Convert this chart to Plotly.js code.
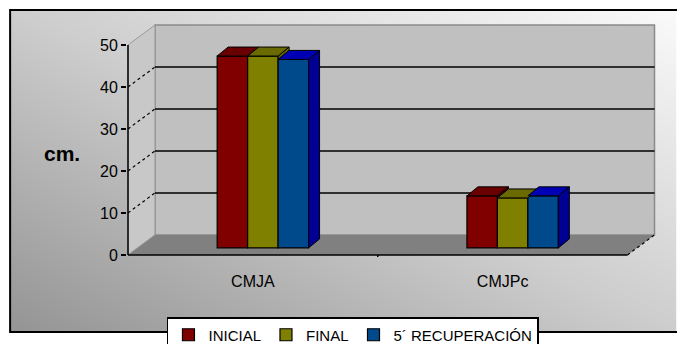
<!DOCTYPE html>
<html>
<head>
<meta charset="utf-8">
<script src="https://cdn.plot.ly/plotly-3.0.1.min.js"></script>
<style>
  html, body { margin: 0; padding: 0; background: #ffffff; }
  #chart { width: 677px; height: 344px; }
</style>
</head>
<body>
<div id="chart"></div>
<script>
// ---- data ----
var categories = ['CMJA', 'CMJPc'];
var seriesNames = ['INICIAL', 'FINAL', '5\u00B4 RECUPERACI\u00D3N'];
var inicial = [45.7, 12.4];
var finalV = [45.7, 11.9];
var recuperacion = [44.9, 12.4];
var yTickValues = [0, 10, 20, 30, 40, 50];

// ---- styling ----
var frontColors = ['#800000', '#808000', '#004a8c'];
var topColors = ['#6a0000', '#6a6a00', '#0000b4'];
var sideColors = ['#6a0000', '#6a6a00', '#000094'];
var seriesValues = [inicial, finalV, recuperacion];

var DX = 0.108, DY = 4.76;      // wall depth in axis units
var BX = 0.04, BY = 1.67;       // bar depth position
var W = 0.122;                  // bar width
var dx = 0.044, dy = 2.14;      // bar depth
var FONT = 'Liberation Sans, Arial, sans-serif';

var xIdx = categories.map(function (c, i) { return i; });
var traces = [];

// front faces (bars)
seriesValues.forEach(function (vals, s) {
  traces.push({
    type: 'bar',
    name: seriesNames[s],
    x: xIdx,
    y: vals,
    base: vals.map(function () { return BY; }),
    width: W,
    offset: BX + (s - 1.5) * W,
    marker: { color: frontColors[s], line: { color: '#000000', width: 1.2 } },
    hoverinfo: 'skip'
  });
});

// side & top faces derived from data
xIdx.forEach(function (ci) {
  seriesValues.forEach(function (vals, s) {
    var x0 = ci + BX + (s - 1.5) * W;
    var x1 = x0 + W;
    var t = BY + vals[ci];
    var tNext = (s < seriesValues.length - 1) ? BY + seriesValues[s + 1][ci] : BY;
    if (t > tNext) {
      traces.push({
        type: 'scatter', mode: 'lines', fill: 'toself', showlegend: false, hoverinfo: 'skip',
        x: [x1, x1, x1 + dx, x1 + dx, x1],
        y: [tNext, t, t + dy, tNext + dy, tNext],
        fillcolor: sideColors[s], line: { color: '#000000', width: 1 }
      });
    }
    traces.push({
      type: 'scatter', mode: 'lines', fill: 'toself', showlegend: false, hoverinfo: 'skip',
      x: [x0, x1, x1 + dx, x0 + dx, x0],
      y: [t, t, t + dy, t + dy, t],
      fillcolor: topColors[s], line: { color: '#000000', width: 1 }
    });
  });
});

// ---- walls (decoration) ----
var XL = -0.5, XR = categories.length - 0.5, YT = 50;
var shapes = [];
// back wall
shapes.push({ type: 'rect', xref: 'x', yref: 'y', layer: 'below',
  x0: XL + DX, x1: XR + DX, y0: DY, y1: YT + DY,
  fillcolor: '#c0c0c0', line: { color: '#8a8a8a', width: 1.5 } });
// left wall
shapes.push({ type: 'path', xref: 'x', yref: 'y', layer: 'below',
  path: 'M' + XL + ',0 L' + XL + ',' + YT + ' L' + (XL + DX) + ',' + (YT + DY) + ' L' + (XL + DX) + ',' + DY + ' Z',
  fillcolor: '#c8c8c8', line: { color: '#9a9a9a', width: 1 } });
// floor
shapes.push({ type: 'path', xref: 'x', yref: 'y', layer: 'below',
  path: 'M' + XL + ',0 L' + XR + ',0 L' + (XR + DX) + ',' + DY + ' L' + (XL + DX) + ',' + DY + ' Z',
  fillcolor: '#808080', line: { width: 0 } });
// gridlines on back wall and left wall
yTickValues.forEach(function (v) {
  if (v > 0 && v < YT) {
    shapes.push({ type: 'line', xref: 'x', yref: 'y', layer: 'below',
      x0: XL + DX, x1: XR + DX, y0: v + DY, y1: v + DY, line: { color: '#000000', width: 1.5 } });
    shapes.push({ type: 'line', xref: 'x', yref: 'y', layer: 'below',
      x0: XL, x1: XL + DX, y0: v, y1: v + DY, line: { color: '#000000', width: 1.2, dash: 'dot' } });
  }
});
// floor right edge (dashed)
shapes.push({ type: 'line', xref: 'x', yref: 'y', layer: 'below',
  x0: XR, x1: XR + DX, y0: 0, y1: DY, line: { color: '#000000', width: 1.2, dash: 'dot' } });
// left wall / floor diagonal
shapes.push({ type: 'line', xref: 'x', yref: 'y', layer: 'below',
  x0: XL, x1: XL + DX, y0: 0, y1: DY, line: { color: '#9a9a9a', width: 1 } });
// front axes
shapes.push({ type: 'line', xref: 'x', yref: 'y', layer: 'above',
  x0: XL, x1: XL, y0: 0, y1: YT, line: { color: '#000000', width: 1.5 } });
shapes.push({ type: 'line', xref: 'x', yref: 'y', layer: 'above',
  x0: XL, x1: XR, y0: 0, y1: 0, line: { color: '#000000', width: 1.5 } });
shapes.push({ type: 'line', xref: 'x', yref: 'y', layer: 'above',
  x0: 0.5, x1: 0.5, y0: 0, y1: -0.5, line: { color: '#000000', width: 1.5 } });

// chart frame (paper coords)
var L = 127, R = 16.5, T = 24, B = 87;
var PW = 677 - L - R, PH = 344 - T - B;
function px2x(p) { return (p - L) / PW; }
function py2y(p) { return (344 - B - p) / PH; }
shapes.push({ type: 'rect', xref: 'paper', yref: 'paper', layer: 'below',
  x0: px2x(10), x1: px2x(700), y0: py2y(332), y1: py2y(10),
  fillcolor: 'rgba(0,0,0,0)', line: { color: '#000000', width: 2 } });

var svg = '<svg xmlns="http://www.w3.org/2000/svg" width="100" height="100" viewBox="0 0 100 100" preserveAspectRatio="none">' +
  '<defs><linearGradient id="g" x1="0" y1="1" x2="1" y2="0">' +
  '<stop offset="0" stop-color="#949494"/><stop offset="0.5" stop-color="#cdcdcd"/><stop offset="1" stop-color="#fafafa"/>' +
  '</linearGradient></defs><rect x="0" y="0" width="100" height="100" fill="url(#g)"/></svg>';

var layout = {
  width: 677, height: 344,
  margin: { l: L, r: R, t: T, b: B, autoexpand: false },
  paper_bgcolor: '#ffffff',
  plot_bgcolor: 'rgba(0,0,0,0)',
  barmode: 'overlay',
  font: { family: FONT, color: '#000000', size: 14 },
  showlegend: true,
  legend: {
    orientation: 'h', x: px2x(167), xanchor: 'left', y: py2y(317), yanchor: 'top',
    bgcolor: '#ffffff', bordercolor: '#000000', borderwidth: 1.5,
    font: { family: FONT, size: 15, color: '#000000' },
    itemwidth: 30, tracegroupgap: 0, traceorder: 'normal'
  },
  xaxis: {
    range: [-0.504, 1.63], showgrid: false, zeroline: false, showline: false,
    tickmode: 'array', tickvals: xIdx, ticktext: categories,
    ticks: 'outside', ticklen: 10, tickcolor: 'rgba(0,0,0,0)',
    tickfont: { family: FONT, size: 16, color: '#000000' }, fixedrange: true
  },
  yaxis: {
    range: [-0.5, 55], showgrid: false, zeroline: false, showline: false,
    tickmode: 'array', tickvals: yTickValues,
    ticks: 'outside', ticklen: 5, tickwidth: 1.5, tickcolor: '#000000',
    tickfont: { family: FONT, size: 16, color: '#000000' }, fixedrange: true
  },
  shapes: shapes,
  images: [{
    source: 'data:image/svg+xml;charset=utf-8,' + encodeURIComponent(svg),
    xref: 'paper', yref: 'paper', x: px2x(10), y: py2y(10),
    sizex: (677 - 10) / PW, sizey: (332 - 10) / PH,
    xanchor: 'left', yanchor: 'top', sizing: 'stretch', layer: 'below'
  }],
  annotations: [{
    text: '<b>cm.</b>', xref: 'paper', yref: 'paper', x: px2x(62), y: py2y(153),
    xanchor: 'center', yanchor: 'middle', showarrow: false,
    font: { family: FONT, size: 21, color: '#000000' }
  }]
};

Plotly.newPlot('chart', traces, layout, { staticPlot: true, displayModeBar: false });
</script>
</body>
</html>
